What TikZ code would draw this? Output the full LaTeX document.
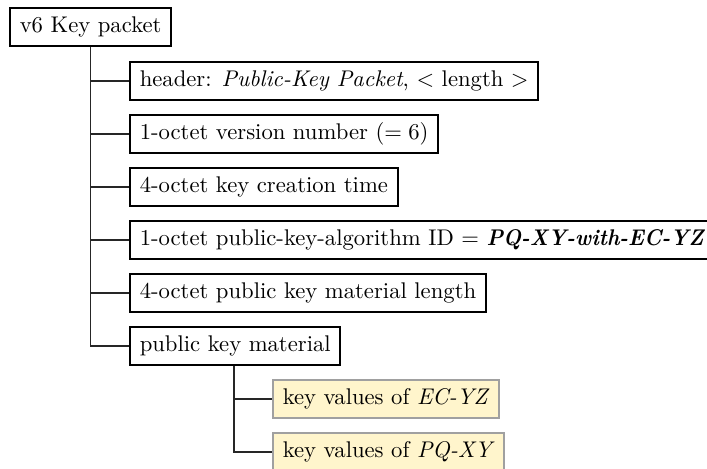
\documentclass[tikz,border=0pt]{standalone}
\usepackage{xcolor}
\usepackage{graphicx}
\definecolor{keyfill}{RGB}{255,245,204}
\definecolor{keydraw}{RGB}{160,160,160}
\tikzset{
  pbox/.style={draw=black, line width=0.9pt, fill=white, anchor=west, minimum height=17pt, inner xsep=4.3pt, inner ysep=0pt},
  kbox/.style={pbox, draw=keydraw, fill=keyfill},
  conn/.style={line width=0.6pt, draw=black!85},
}
\begin{document}
\begin{tikzpicture}[x=0.441pt, y=-0.441pt]
\useasboundingbox (0,0) rectangle (707,469);
\node[pbox] (root) at (9,27) {v6 Key packet};
\node[pbox] (hdr) at (129,81) {header: \textit{Public-Key Packet}, $<$ length $>$};
\node[pbox] (ver) at (129,134) {1-octet version number ($=6$)};
\node[pbox] (time) at (129,187) {4-octet key creation time};
\node[pbox] (alg) at (129,240) {1-octet public-key-algorithm ID $=$ \scalebox{0.93}[1]{\textbf{\textit{PQ-XY-with-EC-YZ}}}};
\node[pbox] (len) at (129,293) {4-octet public key material length};
\node[pbox] (mat) at (129,346) {public key material};
\node[kbox] (ec) at (272,399) {key values of \textit{EC-YZ}};
\node[kbox] (pq) at (272,452) {key values of \textit{PQ-XY}};
\coordinate (mx) at (234,0);
\draw[conn] (root.south) |- (mat.west);
\foreach \n in {hdr,ver,time,alg,len} \draw[conn] (\n.west -| root.south) -- (\n.west);
\draw[conn] (mat.south -| mx) |- (pq.west);
\draw[conn] (ec.west -| mx) -- (ec.west);
\end{tikzpicture}
\end{document}
